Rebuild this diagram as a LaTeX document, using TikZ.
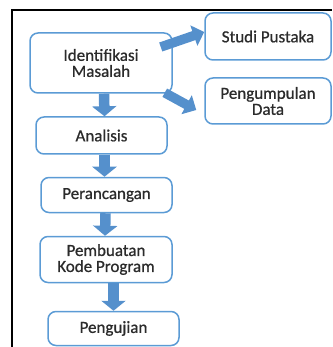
\documentclass[tikz,border=0pt]{standalone}
\usepackage{fontspec}
\setmainfont{Carlito}[FakeBold=0.7]
\usetikzlibrary{arrows.meta,calc}
\definecolor{boxblue}{HTML}{5B9BD5}
\definecolor{arrowblue}{HTML}{5590CC}
\definecolor{textgray}{HTML}{2B2B2B}
\tikzset{
  stepbox/.style={rectangle, rounded corners=8pt, draw=boxblue, line width=1.5pt,
    fill=white, text=textgray, align=center, inner sep=0pt,
    font=\fontsize{17}{16}\selectfont},
  blockarrow/.style={draw=arrowblue, line width=10.5pt, -{Triangle[width=24pt,length=10pt]}},
  sidearrow/.style={draw=arrowblue, line width=9.5pt, -{Triangle[width=21pt,length=11pt]}},
}

\begin{document}
\begin{tikzpicture}[x=1pt, y=-1pt]
  \useasboundingbox (0,0) rectangle (332,347);
  % Frame
  \draw[line width=2pt] (12,347) -- (12,10) -- (332,10);

  % Nodes
  \node (idm) [stepbox, minimum width=142pt, minimum height=60pt] at (101,63) {Identifikasi\\Masalah};
  \node (studi) [stepbox, minimum width=126pt, minimum height=47pt] at (268,36.5) {Studi Pustaka};
  \node (kumpul) [stepbox, minimum width=126pt, minimum height=46pt] at (268,101) {Pengumpulan\\Data};
  \node (analisis) [stepbox, minimum width=131pt, minimum height=37pt] at (101.5,135.5) {Analisis};
  \node (rancang) [stepbox, minimum width=131pt, minimum height=35pt] at (106.5,195) {Perancangan};
  \node (buat) [stepbox, minimum width=132pt, minimum height=46pt] at (106,259.5) {Pembuatan\\Kode Program};
  \node (uji) [stepbox, minimum width=131pt, minimum height=34pt] at (113.5,328.5) {Pengujian};

  % Edges
  \draw[blockarrow] ([shift={(3,0)}]idm.south) -- ([shift={(3,0)}]analisis.north);
  \draw[blockarrow] ([shift={(3,0)}]analisis.south) -- ([shift={(3,0)}]analisis.south |- rancang.north);
  \draw[blockarrow] ([shift={(-1,0)}]rancang.south) -- ([shift={(-1,0)}]buat.north);
  \draw[blockarrow] (buat.south -| uji.north) -- (uji.north);
  % side arrows
  \draw[sidearrow] ([shift={(-12,-16)}]idm.east) -- ([shift={(0,-4.5)}]studi.west);
  \draw[sidearrow] ([shift={(-8,-1)}]idm.south east) -- ([shift={(-8,9)}]kumpul.west);
\end{tikzpicture}
\end{document}
